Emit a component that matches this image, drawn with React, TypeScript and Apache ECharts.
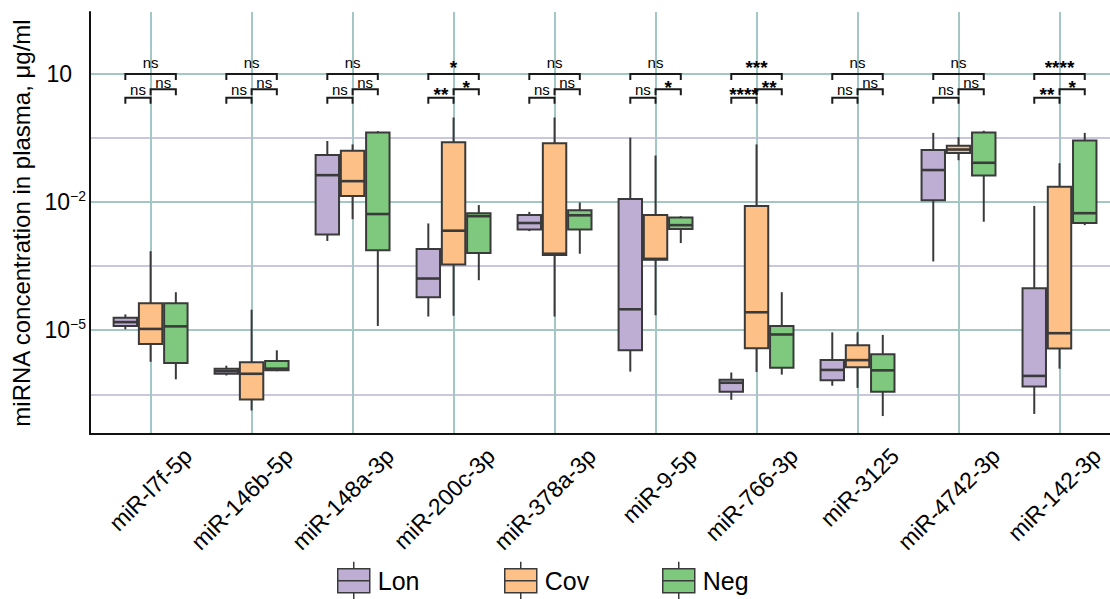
import React, { useEffect, useRef } from 'react';
import * as echarts from 'echarts';

// ---------- data ----------
const categories = [
  'miR-l7f-5p', 'miR-146b-5p', 'miR-148a-3p', 'miR-200c-3p', 'miR-378a-3p',
  'miR-9-5p', 'miR-766-3p', 'miR-3125', 'miR-4742-3p', 'miR-142-3p',
];
const groups = ['Lon', 'Cov', 'Neg'];

// log10(concentration, µg/ml): [whisker low, Q1, median, Q3, whisker high]
const lonStats = [
  [-4.98, -4.90, -4.81, -4.71, -4.63],
  [-6.06, -6.02, -5.96, -5.90, -5.83],
  [-2.91, -2.76, -1.37, -0.90, -0.57],
  [-4.68, -4.23, -3.79, -3.10, -2.50],
  [-2.68, -2.64, -2.49, -2.30, -2.23],
  [-5.97, -5.47, -4.51, -1.93, -0.49],
  [-6.63, -6.44, -6.23, -6.16, -5.99],
  [-6.30, -6.17, -5.93, -5.70, -5.05],
  [-3.39, -1.96, -1.25, -0.78, -0.38],
  [-6.96, -6.32, -6.07, -4.02, -2.09],
];
const covStats = [
  [-5.74, -5.32, -4.97, -4.37, -3.15],
  [-6.88, -6.62, -6.02, -5.75, -4.52],
  [-2.40, -1.86, -1.51, -0.80, -0.65],
  [-4.66, -3.46, -2.67, -0.60, -0.02],
  [-4.68, -3.24, -3.21, -0.62, -0.02],
  [-4.65, -3.35, -3.33, -2.30, -0.91],
  [-5.98, -5.42, -4.58, -2.09, -0.65],
  [-6.35, -5.87, -5.70, -5.35, -5.05],
  [-1.02, -0.85, -0.77, -0.68, -0.48],
  [-5.90, -5.43, -5.07, -1.64, -1.09],
];
const negStats = [
  [-6.15, -5.77, -4.91, -4.37, -4.11],
  [-5.96, -5.94, -5.90, -5.72, -5.47],
  [-4.90, -3.13, -2.28, -0.37, -0.34],
  [-3.83, -3.19, -2.33, -2.26, -2.07],
  [-3.21, -2.64, -2.31, -2.19, -2.01],
  [-2.96, -2.63, -2.54, -2.36, -2.33],
  [-6.04, -5.88, -5.10, -4.90, -4.11],
  [-7.01, -6.44, -5.94, -5.56, -5.11],
  [-2.46, -1.38, -1.08, -0.37, -0.33],
  [-2.54, -2.49, -2.26, -0.56, -0.38],
];

// significance labels
const sigLonNeg = ['ns', 'ns', 'ns', '*', 'ns', 'ns', '***', 'ns', 'ns', '****'];
const sigCovNeg = ['ns', 'ns', 'ns', '*', 'ns', '*', '**', 'ns', 'ns', '*'];
const sigLonCov = ['ns', 'ns', 'ns', '**', 'ns', 'ns', '****', 'ns', 'ns', '**'];

// y ticks (log10)
const yLabelValues = [1, -2, -5];
const yLineValues = [-6.5, -5, -3.5, -2, -0.5, 1];

// ---------- styles / layout ----------
const FONT = '"Liberation Sans", Arial, Helvetica, sans-serif';
const FILLS = ['#BEAED4', '#FDC086', '#7FC97F'];
const OFFSETS = [-0.25, 0, 0.25];
const BOX_W = 0.232;
const STROKE = '#3a3a3a';
const TEAL = '#a2c7c5';
const LAVENDER = '#c9c6de';
const LABEL_SHIFT = 0.37;
const BRACKET_LEVELS = [1, 0.64, 0.445];
const LEGEND_LEFT = [337, 504, 662];
const ICON = 'path://M16,0L16,7M0,7L32,7L32,31L0,31ZM0,19L32,19M16,31L16,38';

const sigSets = [sigLonNeg, sigCovNeg, sigLonCov];
const brackets: number[][] = [];
categories.forEach((_, i) => {
  [0, 1, 2].forEach((t) => brackets.push([i, t]));
});

function makeBoxRenderer(offset: number, fill: string) {
  return (_params: any, api: any) => {
    const x = api.value(0) + offset;
    const [cx, yHigh] = api.coord([x, api.value(5)]);
    const yQ3 = api.coord([x, api.value(4)])[1];
    const yMed = api.coord([x, api.value(3)])[1];
    const yQ1 = api.coord([x, api.value(2)])[1];
    const yLow = api.coord([x, api.value(1)])[1];
    const w = api.size([BOX_W, 0])[0];
    return {
      type: 'group',
      children: [
        { type: 'line', shape: { x1: cx, y1: yHigh, x2: cx, y2: yQ3 }, style: { stroke: STROKE, lineWidth: 2 } },
        { type: 'line', shape: { x1: cx, y1: yQ1, x2: cx, y2: yLow }, style: { stroke: STROKE, lineWidth: 2 } },
        {
          type: 'rect',
          shape: { x: cx - w / 2, y: yQ3, width: w, height: Math.max(yQ1 - yQ3, 1) },
          style: { fill, stroke: STROKE, lineWidth: 2 },
        },
        { type: 'line', shape: { x1: cx - w / 2, y1: yMed, x2: cx + w / 2, y2: yMed }, style: { stroke: STROKE, lineWidth: 2.6 } },
      ],
    };
  };
}

function renderBracket(params: any, api: any) {
  const i = api.value(0);
  const t = api.value(1);
  const label = sigSets[t][i];
  const xa = t === 2 ? i - 0.25 : t === 1 ? i : i - 0.25;
  const xb = t === 2 ? i : 0.25 + i;
  const lvl = BRACKET_LEVELS[t];
  const p1 = api.coord([xa, lvl]);
  const p2 = api.coord([xb, lvl]);
  const y = p1[1];
  const isNs = label === 'ns';
  const nsOff = [-11.5, -6.4, -7.7];
  const starOff = [-6, -1.5, -3.2];
  const ty = y + (isNs ? nsOff[t] : starOff[t]);
  return {
    type: 'group',
    children: [
      {
        type: 'polyline',
        shape: { points: [[p1[0], y + 6], [p1[0], y], [p2[0], y], [p2[0], y + 6]] },
        style: { stroke: '#1a1a1a', lineWidth: 2, fill: 'none' },
      },
      {
        type: 'text',
        x: (p1[0] + p2[0]) / 2,
        y: ty,
        style: {
          text: label,
          fill: '#000',
          fontFamily: FONT,
          fontSize: isNs ? 15 : 19,
          lineHeight: isNs ? 11 : 9,
          fontWeight: isNs ? 'normal' : 'bold',
          align: 'center',
          verticalAlign: 'middle',
        },
      },
    ],
  };
}

export default function App() {
  const ref = useRef<HTMLDivElement>(null);
  useEffect(() => {
    if (!ref.current) return;
    const chart = echarts.init(ref.current, undefined, { renderer: 'svg' });
    const statsList = [lonStats, covStats, negStats];
    const option: any = {
      animation: false,
      backgroundColor: '#fff',
      textStyle: { fontFamily: FONT },
      grid: { left: 90, right: 0, top: 12, bottom: 165 },
      legend: groups.map((g, k) => ({
        data: [g],
        left: LEGEND_LEFT[k],
        top: 561,
        padding: 0,
        itemWidth: 32,
        itemHeight: 38,
        icon: ICON,
        selectedMode: false,
        itemStyle: { borderColor: STROKE, borderWidth: 1.5 },
        textStyle: { fontSize: 25, color: '#000', fontFamily: FONT, padding: [0, 0, 0, 3] },
      })),
      xAxis: {
        type: 'value',
        min: -0.6,
        max: 9.5,
        axisLine: { show: true, onZero: false, lineStyle: { color: '#111', width: 2 } },
        axisTick: { show: false, customValues: categories.map((_, i) => i) },
        splitLine: { show: true, lineStyle: { color: TEAL, width: 2 } },
        axisLabel: {
          customValues: categories.map((_, i) => i + LABEL_SHIFT),
          formatter: (v: number) => categories[Math.round(v - LABEL_SHIFT)] ?? '',
          rotate: 45,
          margin: 18,
          fontSize: 23,
          color: '#000',
          fontFamily: FONT,
        },
      },
      yAxis: {
        type: 'value',
        min: -7.43,
        max: 2.45,
        name: 'miRNA concentration in plasma, μg/ml',
        nameLocation: 'middle',
        nameGap: 55,
        nameTextStyle: { fontSize: 24, color: '#000', fontFamily: FONT },
        axisLine: { show: true, onZero: false, lineStyle: { color: '#111', width: 2 } },
        axisTick: { show: false, customValues: yLineValues },
        splitLine: {
          show: true,
          lineStyle: { color: yLineValues.map((v) => (Number.isInteger(v) ? TEAL : LAVENDER)), width: 2 },
        },
        axisLabel: {
          customValues: yLabelValues,
          margin: 4,
          formatter: (v: number) =>
            v === 1 ? '{b|10}{sp| }' : `{b|10}{s|${String(v).replace('-', '−')}}`,
          rich: {
            b: { fontSize: 23, color: '#000', fontFamily: FONT, lineHeight: 26, verticalAlign: 'middle' },
            sp: { fontSize: 13, width: 14, lineHeight: 13 },
            s: { fontSize: 14, color: '#000', fontFamily: FONT, lineHeight: 14, verticalAlign: 'top' },
          },
        },
      },
      series: [
        ...groups.map((g, k) => ({
          type: 'custom',
          name: g,
          renderItem: makeBoxRenderer(OFFSETS[k], FILLS[k]),
          data: statsList[k].map((s, i) => [i, ...s]),
          encode: { x: 0, y: [1, 2, 3, 4, 5] },
          itemStyle: { color: FILLS[k], borderColor: STROKE, borderWidth: 1.5 },
          z: 3,
        })),
        {
          type: 'custom',
          name: 'sig',
          renderItem: renderBracket,
          data: brackets,
          encode: { x: 0, y: 1 },
          silent: true,
          z: 4,
        },
      ],
    };
    chart.setOption(option);
    return () => chart.dispose();
  }, []);
  return (
    <div
      ref={ref}
      style={{ position: 'fixed', left: 0, top: 0, width: 1110, height: 599, background: '#fff' }}
    />
  );
}
